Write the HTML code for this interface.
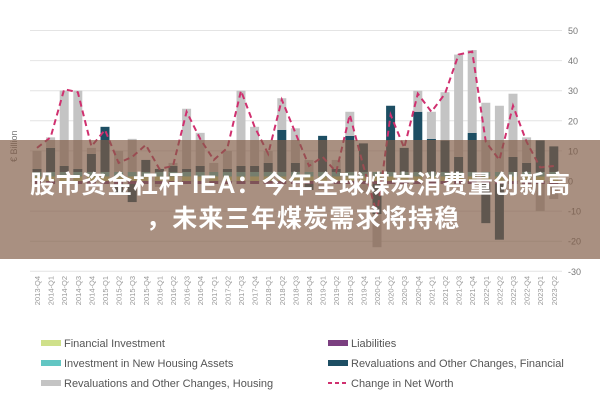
<!DOCTYPE html>
<html><head><meta charset="utf-8"><style>
body{margin:0;width:600px;height:400px;background:#fff;overflow:hidden;position:relative;font-family:"Liberation Sans",sans-serif}
svg{position:absolute;left:0;top:0}
.banner{position:absolute;left:0;top:140px;width:600px;height:119px;background:rgba(128,92,70,0.68)}
.t{position:absolute;color:#fff;font-weight:bold;font-family:"Liberation Sans","Noto Sans CJK SC",sans-serif;font-size:25px;white-space:nowrap;letter-spacing:0.75px}
</style></head><body>
<svg id="chart" width="600" height="400"></svg>
<div class="banner"></div>
<div class="t" style="left:30px;top:165px">股市资金杠杆 IEA：今年全球煤炭消费量创新高</div>
<div class="t" style="left:146px;top:199px;letter-spacing:1.2px">，未来三年煤炭需求将持稳</div>
<script>
const categories=["2013-Q4","2014-Q1","2014-Q2","2014-Q3","2014-Q4","2015-Q1","2015-Q2","2015-Q3","2015-Q4","2016-Q1","2016-Q2","2016-Q3","2016-Q4","2017-Q1","2017-Q2","2017-Q3","2017-Q4","2018-Q1","2018-Q2","2018-Q3","2018-Q4","2019-Q1","2019-Q2","2019-Q3","2019-Q4","2020-Q1","2020-Q2","2020-Q3","2020-Q4","2021-Q1","2021-Q2","2021-Q3","2021-Q4","2022-Q1","2022-Q2","2022-Q3","2022-Q4","2023-Q1","2023-Q2"];
const finInvest=[1.5,1.5,1.5,1.5,1.5,1.5,1.5,1.5,1.5,1.5,1.5,1.5,1.5,1.5,1.5,1.5,1.5,1.5,1.5,1.5,1.5,1.5,1.5,1.5,1.5,1.5,1.5,1.5,1.5,1.5,1.5,1.5,1.5,1.5,1.5,1.5,1.5,1.5,1.5];
const housingInvest=[1.5,1.5,1.5,1.5,1.5,1.5,1.5,1.5,1.5,1.5,1.5,1.5,1.5,1.5,1.5,1.5,1.5,1.5,1.5,1.5,1.5,1.5,1.5,1.5,1.5,1.5,1.5,1.5,1.5,1.5,1.5,1.5,1.5,1.5,1.5,1.5,1.5,1.5,1.5];
const liabilities=[-1,-1,-1,-1,-1,-1,-1,-1,-1,-1,-1,-1,-1,-1,-1,-1,-1,-1,-1,-1,-1,-1,-1,-1,-1,-1,-1,-1,-1,-1,-1,-1,-1,-1,-1,-1,-1,-1,-1];
const finReval=[1,8,2,1,6,15,-3,-6,4,1,2,1,2,0,1,2,2,3,14,3,-2,12,1,12,9.5,-10,22,8,20,11,10.5,5,13,-13,-18.5,5,3,10.5,8.5];
const housReval=[6,3.5,25,26,2,0,7,11,0,-1,1,20,11,3,6,25,13,4,10.5,11.5,4,-2,3,8,-3,-11,0,0,7,9,16,34,27.5,23,22,21,8.5,-9,-5];
const netWorth=[11,14.5,30.5,29.5,11.5,17,6,8,12,4,5,23,14,7,11,30,18,9,27,16,5,8,3,22,5,-11,22,11,29,23,29,42,43,13,7,25,13,4.5,5];
const yTicks=[50,40,30,20,10,0,-10,-20,-30];
const NS="http://www.w3.org/2000/svg";
const svg=document.getElementById('chart');
const X0=30,X1=562;
const y=v=>181-v*3.01;
const x=i=>37+i*13.6;
function mk(t,a){const e=document.createElementNS(NS,t);for(const k in a)e.setAttribute(k,a[k]);svg.appendChild(e);return e;}
yTicks.forEach(t=>{
 const g=mk('line',{x1:X0,x2:X1,y1:y(t),y2:y(t),stroke:'#e4e4e4','stroke-width':1});
 
 
 const l=mk('text',{x:568,y:y(t)+3.5,'font-size':9,fill:'#777'});l.textContent=t;
 
 
});
const yt=mk('text',{x:0,y:0,'font-size':9,fill:'#777',transform:'translate(17,162) rotate(-90)'});yt.textContent='€ Billion';


const series=[[finInvest,'#cfe08a','financial-investment'],[housingInvest,'#62c6c3','housing-investment'],[liabilities,'#7b3f80','liabilities'],[finReval,'#1d4e63','financial-revaluation'],[housReval,'#c4c4c4','housing-revaluation']];
categories.forEach((c,i)=>{
 let pos=0,neg=0;
 series.forEach(([arr,col,nm])=>{
  const v=arr[i];if(!v)return;
  let a,b;
  if(v>0){a=pos;b=pos+v;pos=b;}else{a=neg;b=neg+v;neg=b;}
  const r=mk('rect',{x:x(i)-4.5,width:9,y:Math.min(y(a),y(b)),height:Math.abs(y(a)-y(b)),fill:col});
  
  
 });
 const t=mk('text',{x:0,y:0,'font-size':7.5,fill:'#999','text-anchor':'end',transform:`translate(${x(i)+3},276) rotate(-90)`});t.textContent=c;
 
 
});
const pl=mk('polyline',{points:netWorth.map((v,i)=>x(i)+','+y(v)).join(' '),fill:'none',stroke:'#d0306f','stroke-width':2,'stroke-dasharray':'6,4'});


const legend=[['Financial Investment','#cfe08a',41,343,0],['Investment in New Housing Assets','#62c6c3',41,363,0],['Revaluations and Other Changes, Housing','#c4c4c4',41,383,0],['Liabilities','#7b3f80',328,343,0],['Revaluations and Other Changes, Financial','#1d4e63',328,363,0],['Change in Net Worth','#d0306f',328,383,1]];
legend.forEach(([txt,col,lx,ly,dash])=>{
 let s;
 if(dash){s=mk('line',{x1:lx,x2:lx+20,y1:ly,y2:ly,stroke:col,'stroke-width':2,'stroke-dasharray':'4,3'});}
 else{s=mk('rect',{x:lx,y:ly-3,width:20,height:6,fill:col});}
 
 
 const t=mk('text',{x:lx+23,y:ly+4,'font-size':11,fill:'#555'});t.textContent=txt;
 
 
});
</script>
</body></html>
